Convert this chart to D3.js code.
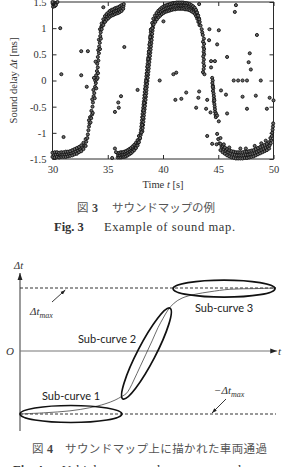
<!DOCTYPE html>
<html><head><meta charset="utf-8">
<script src="https://cdn.jsdelivr.net/npm/d3@7"></script>
<style>
html,body{margin:0;padding:0;background:#fff;}
svg{display:block;}
</style></head><body>
<svg id="c" width="282" height="467"></svg>
<script>
// ================= DATA (Fig. 3 sound map) =================
const xTicks = [30, 35, 40, 45, 50];
const yTicks = [-1.5, -1, -0.5, 0, 0.5, 1, 1.5];
const yTickLabels = ["-1.5", "-1", "-0.5", "0", "0.5", "1", "1.5"];

const cornerPts = [[30.02,1.47],[30.1,1.44],[30.15,1.49],[30.25,1.46],[30.05,1.41],[30.35,1.48],[30.45,1.5],[30.2,1.42],[30.0,1.5],[30.3,1.44]];

const bandLeftLow = [
[30.0,-1.46],[30.1,-1.42],[30.0,-1.38],[30.2,-1.47],[30.3,-1.42],[30.2,-1.37],[30.4,-1.46],[30.5,-1.41],[30.4,-1.37],
[30.6,-1.47],[30.7,-1.42],[30.6,-1.38],[30.8,-1.46],[30.9,-1.42],[30.8,-1.37],[31.0,-1.46],[31.1,-1.41],[31.0,-1.37],
[31.2,-1.46],[31.3,-1.41],[31.2,-1.36],[31.4,-1.45],[31.5,-1.40],[31.4,-1.36],[31.6,-1.44],[31.7,-1.39],[31.6,-1.35],
[31.8,-1.43],[31.9,-1.38],[31.8,-1.33],[32.0,-1.41],[32.1,-1.36],[32.0,-1.31],[32.2,-1.40],[32.3,-1.34],[32.2,-1.29],
[32.4,-1.37],[32.5,-1.31],[32.4,-1.27],[32.6,-1.35],[32.7,-1.28],[32.6,-1.24],[32.8,-1.31],[32.9,-1.24],[32.8,-1.19],
[33.0,-1.25],[33.05,-1.17],[33.0,-1.12],[33.15,-1.1],[33.2,-1.03],[33.25,-0.95],[33.3,-0.88],[33.35,-0.82],[33.3,-0.76],[33.4,-0.7]
];

const streakLeft = [
[33.5,-0.72],[33.58,-0.65],[33.52,-0.58],[33.62,-0.5],[33.66,-0.42],[33.6,-0.36],[33.72,-0.3],[33.78,-0.24],[33.7,-0.18],
[33.85,-0.12],[33.92,-0.05],[33.86,0.0],[34.0,0.02],[34.08,0.05],[33.95,0.1],[34.02,0.18],[34.1,0.25],[34.05,0.32],
[34.15,0.38],[34.1,0.45],[34.2,0.52],[34.14,0.58],[34.22,0.65],[34.28,0.72],[34.2,0.78],[34.32,0.85],[34.36,0.92],
[34.3,0.98],[34.42,1.03],[33.64,-0.62],[33.44,-0.8],[33.82,-0.34],[33.96,-0.15],[34.12,0.14],[33.9,0.36],[34.3,0.6],
[34.38,0.8],[33.75,0.05]
];

const bandLeftHigh = [
[34.45,0.98],[34.5,1.04],[34.45,1.09],[34.6,1.06],[34.65,1.12],[34.6,1.17],[34.75,1.12],[34.8,1.18],[34.75,1.23],
[34.9,1.16],[34.95,1.22],[34.9,1.27],[35.05,1.19],[35.1,1.25],[35.05,1.3],[35.2,1.22],[35.25,1.28],[35.2,1.33],
[35.35,1.24],[35.4,1.30],[35.35,1.35],[35.5,1.25],[35.55,1.31],[35.5,1.36],[35.65,1.27],[35.7,1.33],[35.65,1.38],
[35.8,1.28],[35.85,1.34],[35.8,1.39],[35.95,1.29],[36.0,1.35],[35.95,1.40],[36.1,1.31],[36.15,1.37],[36.1,1.42],
[36.25,1.33],[36.3,1.39],[36.25,1.44],[36.4,1.37],[36.42,1.42],[36.45,1.46]
];

const bandCenterLow = [
[35.9,-1.47],[35.95,-1.43],[35.9,-1.39],[36.05,-1.47],[36.1,-1.43],[36.05,-1.38],[36.2,-1.47],[36.25,-1.42],[36.2,-1.37],
[36.35,-1.46],[36.4,-1.42],[36.35,-1.37],[36.5,-1.46],[36.55,-1.41],[36.5,-1.36],[36.65,-1.45],[36.7,-1.40],[36.65,-1.35],
[36.8,-1.43],[36.85,-1.38],[36.8,-1.33],[36.95,-1.41],[37.0,-1.36],[36.95,-1.31],[37.1,-1.39],[37.15,-1.34],[37.1,-1.29],
[37.25,-1.36],[37.3,-1.31],[37.25,-1.26],[37.4,-1.33],[37.45,-1.28],[37.4,-1.23],[37.55,-1.29],[37.6,-1.24],[37.55,-1.19],
[37.7,-1.24],[37.75,-1.19],[37.7,-1.14],[37.82,-1.18],[37.87,-1.12],[37.82,-1.06],[37.93,-1.1],[37.98,-1.04]
];

const bandCenterRise = [
[37.98,-1.0],[38.01,-0.94],[38.04,-0.88],[38.07,-0.82],[38.10,-0.76],[38.12,-0.70],[38.15,-0.64],[38.18,-0.58],[38.21,-0.52],
[38.24,-0.46],[38.27,-0.40],[38.30,-0.34],[38.33,-0.28],[38.35,-0.22],[38.38,-0.16],[38.41,-0.10],[38.44,-0.04],[38.47,0.02],
[38.50,0.08],[38.53,0.14],[38.56,0.20],[38.58,0.26],[38.61,0.32],[38.64,0.38],[38.67,0.44],[38.70,0.50],[38.73,0.56],
[38.76,0.62],[38.79,0.68],[38.82,0.74],[38.84,0.80],[38.87,0.86],[38.90,0.92],[38.93,0.98],
[38.13,-0.97],[38.16,-0.91],[38.19,-0.85],[38.22,-0.79],[38.25,-0.73],[38.27,-0.67],[38.30,-0.61],[38.33,-0.55],[38.36,-0.49],
[38.39,-0.43],[38.42,-0.37],[38.45,-0.31],[38.48,-0.25],[38.50,-0.19],[38.53,-0.13],[38.56,-0.07],[38.59,-0.01],[38.62,0.05],
[38.65,0.11],[38.68,0.17],[38.71,0.23],[38.73,0.29],[38.76,0.35],[38.79,0.41],[38.82,0.47],[38.85,0.53],[38.88,0.59],
[38.91,0.65],[38.94,0.71],[38.97,0.77],[38.99,0.83],[39.02,0.89],[39.05,0.95],[39.08,1.01],
[38.06,-0.99],[38.12,-0.85],[38.18,-0.71],[38.24,-0.57],[38.30,-0.43],[38.36,-0.29],[38.42,-0.15],[38.48,-0.01],
[38.54,0.13],[38.60,0.27],[38.66,0.41],[38.72,0.55],[38.78,0.69],[38.84,0.83],[38.90,0.97]
];

const bandCenterHigh = [
[39.05,1.0],[39.1,1.06],[39.02,1.1],[39.15,1.07],[39.2,1.13],[39.12,1.18],[39.3,1.12],[39.35,1.19],[39.27,1.24],
[39.45,1.17],[39.5,1.24],[39.42,1.29],[39.6,1.21],[39.65,1.28],[39.57,1.33],[39.75,1.24],[39.8,1.31],[39.72,1.36],
[39.9,1.27],[39.95,1.34],[39.87,1.39],[40.05,1.29],[40.1,1.36],[40.02,1.41],[40.2,1.31],[40.25,1.38],[40.17,1.43],
[40.35,1.32],[40.4,1.39],[40.32,1.44],[40.5,1.33],[40.55,1.40],[40.47,1.45],[40.65,1.34],[40.7,1.41],[40.62,1.46],
[40.8,1.35],[40.85,1.42],[40.77,1.47],[40.95,1.36],[41.0,1.43],[40.92,1.48],[41.1,1.36],[41.15,1.43],[41.07,1.48],
[41.25,1.37],[41.3,1.44],[41.22,1.49],[41.4,1.37],[41.45,1.44],[41.37,1.49],[41.55,1.37],[41.6,1.44],[41.52,1.49],
[41.7,1.37],[41.75,1.44],[41.67,1.49],[41.85,1.37],[41.9,1.44],[41.82,1.49],[42.0,1.36],[42.05,1.43],[41.97,1.48],
[42.15,1.36],[42.2,1.43],[42.12,1.48],[42.3,1.35],[42.35,1.42],[42.27,1.47],[42.45,1.34],[42.5,1.41],[42.42,1.46],
[42.6,1.32],[42.65,1.39],[42.57,1.44],[42.75,1.30],[42.8,1.37],[42.72,1.42],[42.9,1.27],[42.95,1.34],[42.87,1.39],
[43.0,1.23],[43.05,1.30],[42.98,1.35],[43.1,1.18],[43.15,1.25],[43.08,1.3],[43.2,1.12],[43.25,1.19],[43.18,1.24],
[43.3,1.06],[43.32,1.12],[43.28,1.17]
];

const streakRightHigh = [
[43.4,1.05],[43.5,0.98],[43.55,0.92],[43.6,0.87],[43.7,0.8],[43.62,0.74],[43.72,0.7],[43.66,0.64],[43.72,0.6],
[43.68,0.55],[43.72,0.5],[43.64,0.46],[43.7,0.4],[43.66,0.34],[43.72,0.28],[43.68,0.22],[43.62,0.16],[43.75,0.12]
];

const streakRightMid = [
[44.45,0.05],[44.5,0.0],[44.47,-0.05],[44.52,-0.1],[44.55,-0.15],[44.52,-0.2],[44.58,-0.25],[44.6,-0.3],[44.62,-0.35],
[44.6,-0.4],[44.65,-0.45],[44.68,-0.5],[44.7,-0.55],[44.72,-0.6],[44.75,-0.65],[44.78,-0.7],[44.5,-0.12],[44.65,-0.38]
];

const bandRightLow = [
[44.9,-1.02],[45.0,-1.12],[44.85,-1.22],[45.1,-1.2],[45.2,-1.1],[45.05,-0.78],
[45.2,-1.33],[45.3,-1.27],[45.2,-1.21],[45.4,-1.37],[45.5,-1.31],[45.4,-1.25],[45.6,-1.40],[45.7,-1.34],[45.6,-1.28],
[45.8,-1.43],[45.9,-1.37],[45.8,-1.31],[46.0,-1.45],[46.1,-1.39],[46.0,-1.33],[46.2,-1.47],[46.3,-1.41],[46.2,-1.35],
[46.4,-1.48],[46.5,-1.42],[46.4,-1.36],[46.6,-1.49],[46.7,-1.43],[46.6,-1.37],[46.8,-1.49],[46.9,-1.43],[46.8,-1.37],
[47.0,-1.49],[47.1,-1.43],[47.0,-1.37],[47.2,-1.49],[47.3,-1.43],[47.2,-1.37],[47.4,-1.48],[47.5,-1.42],[47.4,-1.36],
[47.6,-1.48],[47.7,-1.42],[47.6,-1.36],[47.8,-1.47],[47.9,-1.41],[47.8,-1.35],[48.0,-1.46],[48.1,-1.40],[48.0,-1.34],
[48.2,-1.45],[48.3,-1.39],[48.2,-1.33],[48.4,-1.43],[48.5,-1.37],[48.4,-1.31],[48.6,-1.41],[48.7,-1.35],[48.6,-1.29],
[48.8,-1.39],[48.9,-1.33],[48.8,-1.27],[49.0,-1.37],[49.1,-1.31],[49.0,-1.25],[49.2,-1.35],[49.3,-1.29],[49.2,-1.23],
[49.4,-1.33],[49.5,-1.27],[49.4,-1.21],[49.6,-1.30],[49.65,-1.24],[49.6,-1.18],[49.75,-1.2],[49.8,-1.14],[49.72,-1.1],
[49.85,-1.06],[49.88,-1.0],[49.92,-0.94],[49.95,-0.88],[49.97,-0.82],
[46.0,-1.28],[47.0,-1.3],[48.3,-1.25],[48.9,-1.2],[49.3,-1.15],[45.5,-1.22],[47.5,-1.3]
];

const scatterPts = [
[30.7,1.0],[30.8,0.12],[31.0,-1.08],[32.6,0.56],[33.2,0.56],[32.6,0.1],[33.1,-0.12],[34.6,1.4],[36.5,0.64],
[36.2,-0.3],[35.95,-0.42],[37.7,-0.18],[35.65,-0.6],[36.0,-0.52],[35.4,-1.48],[35.75,-1.37],[35.65,-1.3],
[39.7,0.0],[40.04,1.13],[40.94,0.12],[41.12,-0.37],[41.66,-0.35],[42.1,-0.23],[41.2,0.15],
[43.2,-0.33],[43.27,-0.21],[43.0,-0.52],[43.9,-0.54],[44.0,-0.37],[44.8,-0.63],[45.25,-0.19],[45.7,-0.27],
[45.8,-0.63],[46.4,0.0],[46.8,0.0],[47.2,0.0],[47.6,0.0],[47.75,0.35],[47.85,0.52],[47.95,0.21],[48.5,0.87],
[48.85,0.0],[48.4,-0.29],[47.6,-0.54],[49.65,-0.33],[50.0,-0.38],[49.4,-0.54],[47.2,-0.31],[44.0,-1.06],
[44.45,-1.21],[44.9,-0.67],[44.3,-0.61],
[44.2,0.98],[45.05,0.96],[44.17,0.77],[44.9,0.69],[45.8,0.45],[46.6,1.44],[46.5,1.31],[43.27,1.46],
[44.35,0.37],[44.7,0.37],[44.35,0.25]
];

// ================= DATA (Fig. 4 schematic) =================
const curveT  = [0, 0.98, 1.95, 2.73, 3.32, 3.71, 3.98, 4.14, 4.28, 4.45, 4.69, 4.92, 5.16, 5.39, 5.59, 5.78, 6.02, 6.33, 6.84, 7.42, 8.20, 9.18, 10.0];
const curveDt = [-1, -0.98, -0.95, -0.90, -0.84, -0.78, -0.72, -0.68, -0.60, -0.46, -0.25, -0.05, 0.16, 0.37, 0.52, 0.65, 0.76, 0.84, 0.90, 0.94, 0.98, 0.99, 1.0];
const subLabels = ["Sub-curve 1", "Sub-curve 2", "Sub-curve 3"];
const subStartT  = [0.0, 4.02, 5.98];
const subStartDt = [-1.0, -0.76, 0.99];
const subEndT    = [3.98, 5.86, 9.96];
const subEndDt   = [-1.0, 0.68, 0.99];
const dtMax = 1;

// ================= DRAW =================
const svg = d3.select("#c");
const serif = "'Liberation Serif','Times New Roman','DejaVu Serif',serif";
const ink = "#2a2a2a";

// ---- Fig. 3 ----
const x = d3.scaleLinear().domain([30, 50]).range([52.5, 273.5]);
const y = d3.scaleLinear().domain([-1.5, 1.5]).range([159, 2]);

const plot = svg.append("g");
plot.append("rect").attr("x", x(30)).attr("y", y(1.5)).attr("width", x(50) - x(30)).attr("height", y(-1.5) - y(1.5))
  .attr("fill", "none").attr("stroke", ink).attr("stroke-width", 1);

function styleAxis(g) {
  g.select(".domain").remove();
  g.selectAll("line").attr("stroke", ink);
  g.selectAll("text").attr("font-family", serif).attr("font-size", 10.5).attr("fill", "#333");
}
plot.append("g").attr("transform", `translate(0,${y(-1.5)})`)
  .call(d3.axisBottom(x).tickValues(xTicks).tickSizeInner(-4).tickSizeOuter(0).tickPadding(7).tickFormat(d3.format("d"))).call(styleAxis);
plot.append("g").attr("transform", `translate(0,${y(1.5)})`)
  .call(d3.axisTop(x).tickValues(xTicks).tickSizeInner(-4).tickSizeOuter(0).tickFormat("")).call(styleAxis);
plot.append("g").attr("transform", `translate(${x(30)},0)`)
  .call(d3.axisLeft(y).tickValues(yTicks).tickSizeInner(-4).tickSizeOuter(0).tickPadding(6).tickFormat((d, i) => yTickLabels[i])).call(styleAxis);
plot.append("g").attr("transform", `translate(${x(50)},0)`)
  .call(d3.axisRight(y).tickValues(yTicks).tickSizeInner(-4).tickSizeOuter(0).tickFormat("")).call(styleAxis);

const allPts = [].concat(cornerPts, bandLeftLow, streakLeft, bandLeftHigh, bandCenterLow, bandCenterRise,
  bandCenterHigh, streakRightHigh, streakRightMid, bandRightLow, scatterPts);
plot.append("g").selectAll("circle").data(allPts).join("circle")
  .attr("cx", d => x(d[0])).attr("cy", d => y(d[1])).attr("r", 1.55)
  .attr("fill", "#6a6a6a").attr("stroke", "#111").attr("stroke-width", 0.9);

// axis titles
const xt = svg.append("text").attr("x", (x(30) + x(50)) / 2).attr("y", 188).attr("text-anchor", "middle")
  .attr("font-family", serif).attr("font-size", 10.5).attr("fill", "#333");
xt.append("tspan").text("Time ");
xt.append("tspan").attr("font-style", "italic").text("t");
xt.append("tspan").text(" [s]");
const yt = svg.append("text").attr("transform", `translate(17,${(y(1.5) + y(-1.5)) / 2}) rotate(-90)`)
  .attr("text-anchor", "middle").attr("font-family", serif).attr("font-size", 10.5).attr("fill", "#333");
yt.append("tspan").text("Sound delay ");
yt.append("tspan").attr("font-style", "italic").text("Δt");
yt.append("tspan").text(" [ms]");

// captions Fig. 3
const jp = "'Noto Sans CJK JP','Noto Sans CJK SC',sans-serif";
function jpCaption(yb, num, body, x0, xn, xb, wb) {
  svg.append("text").attr("x", x0).attr("y", yb).attr("font-family", jp).attr("font-size", 11.5).attr("fill", "#555").text("図");
  svg.append("text").attr("x", xn).attr("y", yb).attr("font-family", serif).attr("font-weight", "bold").attr("font-size", 12).attr("fill", "#444").text(num);
  svg.append("text").attr("x", xb).attr("y", yb).attr("font-family", jp).attr("font-size", 11.5).attr("fill", "#555")
    .attr("textLength", wb).attr("lengthAdjust", "spacing").text(body);
}
jpCaption(212, "3", "サウンドマップの例", 77, 92, 112, 103);
svg.append("text").attr("x", 54).attr("y", 231).attr("font-family", serif).attr("font-weight", "bold").attr("font-size", 12.5).attr("fill", "#333").text("Fig. 3");
svg.append("text").attr("x", 104).attr("y", 231).attr("font-family", serif).attr("font-size", 12.5).attr("fill", "#333")
  .attr("textLength", 131).attr("lengthAdjust", "spacing").text("Example of sound map.");

// ---- Fig. 4 schematic ----
const sx = d3.scaleLinear().domain([0, 10]).range([20, 276]);
const sy = d3.scaleLinear().domain([-1, 1]).range([414, 288]);

const defs = svg.append("defs");
function mk(id, size) {
  defs.append("marker").attr("id", id).attr("viewBox", "0 0 10 10").attr("refX", 10).attr("refY", 5)
    .attr("markerWidth", size).attr("markerHeight", size).attr("markerUnits", "userSpaceOnUse").attr("orient", "auto")
    .append("path").attr("d", "M0,1.5 L10,5 L0,8.5 z").attr("fill", "#222");
}
mk("ah", 7); mk("ahs", 5);

const sch = svg.append("g");
sch.append("line").attr("x1", sx(0)).attr("x2", sx(0)).attr("y1", sy(-1.27)).attr("y2", sy(1.24))
  .attr("stroke", "#666").attr("stroke-width", 1.3).attr("marker-end", "url(#ah)");
sch.append("line").attr("x1", sx(0)).attr("x2", sx(10.05)).attr("y1", sy(0)).attr("y2", sy(0))
  .attr("stroke", "#777").attr("stroke-width", 1.2).attr("marker-end", "url(#ah)");
[dtMax, -dtMax].forEach(v => {
  sch.append("line").attr("x1", sx(0)).attr("x2", sx(10)).attr("y1", sy(v)).attr("y2", sy(v))
    .attr("stroke", "#333").attr("stroke-width", 1).attr("stroke-dasharray", "3,2");
});
const line = d3.line().x((d, i) => sx(curveT[i])).y((d, i) => sy(curveDt[i])).curve(d3.curveCatmullRom);
sch.append("path").attr("d", line(curveT)).attr("fill", "none").attr("stroke", "#444").attr("stroke-width", 0.8);
subLabels.forEach((s, i) => {
  const x1 = sx(subStartT[i]), y1 = sy(subStartDt[i]), x2 = sx(subEndT[i]), y2 = sy(subEndDt[i]);
  const cx = (x1 + x2) / 2, cy = (y1 + y2) / 2;
  const rx = Math.hypot(x2 - x1, y2 - y1) / 2;
  const ang = Math.atan2(y2 - y1, x2 - x1) * 180 / Math.PI;
  sch.append("ellipse").attr("cx", 0).attr("cy", 0).attr("rx", rx).attr("ry", i === 1 ? 9 : 8.5)
    .attr("transform", `translate(${cx},${cy}) rotate(${ang})`)
    .attr("fill", "none").attr("stroke", "#111").attr("stroke-width", 1.7);
});
const sans = "Lato,'Open Sans',sans-serif";
const subPos = [[42, 400], [78, 343], [195, 312]];
subLabels.forEach((s, i) => {
  sch.append("text").attr("x", subPos[i][0]).attr("y", subPos[i][1]).attr("font-family", sans)
    .attr("font-size", 11).attr("fill", "#222").text(s);
});
function italic(xp, yp, txt, size) {
  return sch.append("text").attr("x", xp).attr("y", yp).attr("font-family", serif).attr("font-style", "italic")
    .attr("font-size", size).attr("fill", "#333").text(txt);
}
italic(14, 269, "Δt", 10.5);
italic(6, 355, "O", 11);
italic(278, 355, "t", 11);
const lab1 = sch.append("text").attr("x", 30).attr("y", 315).attr("font-family", serif).attr("font-style", "italic").attr("font-size", 11).attr("fill", "#333");
lab1.append("tspan").text("Δt");
lab1.append("tspan").attr("font-size", 8).attr("dy", 3).text("max");
sch.append("line").attr("x1", 52).attr("y1", 302).attr("x2", sx(1.77)).attr("y2", sy(dtMax) + 2)
  .attr("stroke", "#222").attr("stroke-width", 0.9).attr("marker-end", "url(#ahs)");
const lab2 = sch.append("text").attr("x", 214).attr("y", 394).attr("font-family", serif).attr("font-style", "italic").attr("font-size", 11).attr("fill", "#333");
lab2.append("tspan").text("−Δt");
lab2.append("tspan").attr("font-size", 8).attr("dy", 3).text("max");
sch.append("line").attr("x1", 226).attr("y1", 399).attr("x2", sx(7.5)).attr("y2", sy(-dtMax) - 1)
  .attr("stroke", "#222").attr("stroke-width", 0.9).attr("marker-end", "url(#ahs)");

// captions Fig. 4
svg.append("text").attr("x", 32).attr("y", 453).attr("font-family", jp).attr("font-size", 11.5).attr("fill", "#555").text("図");
svg.append("text").attr("x", 47).attr("y", 453).attr("font-family", serif).attr("font-weight", "bold").attr("font-size", 12).attr("fill", "#444").text("4");
svg.append("text").attr("x", 65).attr("y", 453).attr("font-family", jp).attr("font-size", 11.5).attr("fill", "#555")
  .attr("textLength", 202).attr("lengthAdjust", "spacing").text("サウンドマップ上に描かれた車両通過");
svg.append("text").attr("x", 13).attr("y", 474).attr("font-family", serif).attr("font-weight", "bold").attr("font-size", 12.5).attr("fill", "#333").text("Fig. 4");
svg.append("text").attr("x", 62).attr("y", 474).attr("font-family", serif).attr("font-size", 12.5).attr("fill", "#333")
  .attr("textLength", 206).attr("lengthAdjust", "spacing").text("Vehicle passage drawn on sound map");
</script>
</body></html>
